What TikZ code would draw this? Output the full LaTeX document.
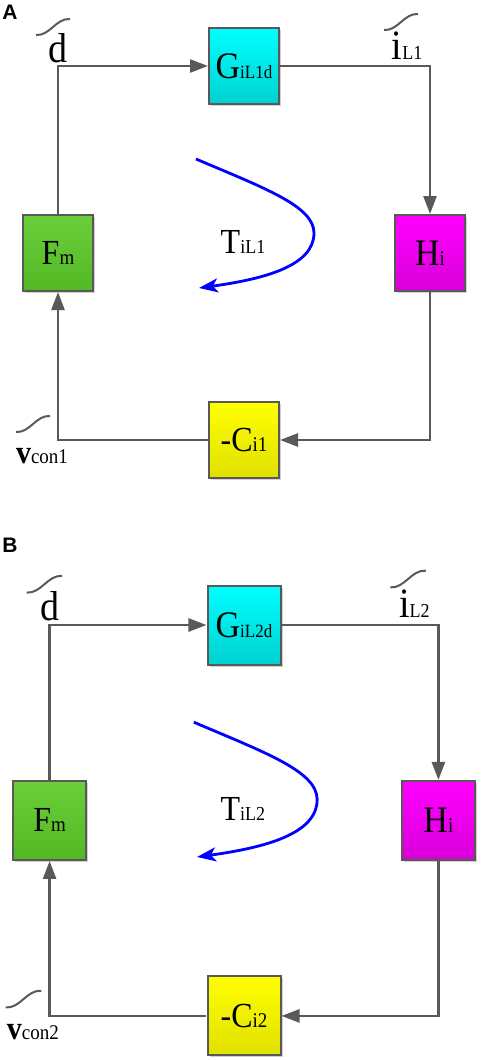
\documentclass[tikz,border=0pt]{standalone}
\usepackage{fontspec}
\usepackage{graphicx}
\setmainfont{Liberation Serif}
\newfontfamily\panelfont{Liberation Sans}
\usetikzlibrary{arrows.meta, shadows}

\definecolor{linegray}{HTML}{595959}
\definecolor{blkgreen}{HTML}{6ACF3A}
\definecolor{blkgreendk}{HTML}{52B824}
\newcommand{\varsym}[4]{\scalebox{1}[1.1]{{\fontsize{#1}{#1}\selectfont #2}{\fontsize{#3}{#3}\selectfont #4}}}
\newcommand{\tildemark}[1]{\draw[tld, shift={#1}] (-17,-8) .. controls (-3,-9) and (3,9) .. (17,8);}

\tikzset{
    blk/.style={draw=linegray, line width=2pt, inner sep=0pt,
        drop shadow={shadow xshift=2pt, shadow yshift=-2pt, opacity=0.18, fill=black}},
    cyanblk/.style={top color=cyan, bottom color=cyan!82!black},
    greenblk/.style={top color=blkgreen, bottom color=blkgreendk},
    pinkblk/.style={top color=magenta, bottom color=magenta!85!black},
    yellowblk/.style={top color=yellow, bottom color=yellow!88!black},
    conn/.style={draw=linegray, line width=2.6pt, -{Triangle[length=18pt,width=13pt]}},
    tld/.style={draw=linegray, line width=2pt},
    loopar/.style={draw=blue, line width=2.8pt, -{Stealth[length=19pt,width=14pt,inset=5pt]}},
}

\begin{document}
\begin{tikzpicture}[x=1pt, y=1pt]
    \useasboundingbox (0,0) rectangle (484,-1060);

    % Two loops, A and B
    \foreach \pn/\k/\ys/\s/\bw/\ly in {A/1/66/1/70/12, B/2/625/1.045/73/545} {
        \node[font={\panelfont\bfseries\fontsize{21}{21}\selectfont}] (lbl\pn) at (10,-\ly) {\pn};

        \begin{scope}[shift={(244,-\ys)}, scale=\s]
            % blocks
            \node[blk, cyanblk, minimum width=\bw pt, minimum height=\bw pt+6pt] (G\k) at (0,0) {\varsym{34}{G}{17}{iL\k d}};
            \node[blk, greenblk, minimum width=\bw pt, minimum height=\bw pt+6pt] (F\k) at (-186,-187) {\varsym{32}{F}{19}{m}};
            \node[blk, pinkblk, minimum width=\bw pt, minimum height=\bw pt+6pt] (H\k) at (186,-187) {\varsym{34}{H}{19}{i}};
            \node[blk, yellowblk, minimum width=\bw pt, minimum height=\bw pt+6pt] (C\k) at (0,-374) {\varsym{32}{-C}{19}{i\k}};

            % connectors
            \draw[conn] (F\k) |- (G\k);
            \draw[conn] (G\k) -| (H\k);
            \draw[conn] (H\k) |- (C\k);
            \draw[conn] (C\k) -| (F\k);

            % signals
            \node[anchor=base] (d\k) at (-186,4) {\varsym{38}{d}{18}{}};
            \node[anchor=base] (i\k) at (163,7) {\varsym{38}{i}{18}{L\k}};
            \node[anchor=base] (v\k) at (-202,-397) {\varsym{30}{\bfseries v}{19}{con\k}};
            \tildemark{(-191,39)}
            \tildemark{(157,44)}
            \tildemark{(-211,-358)}

            % loop gain
            \draw[loopar] (-48,-93) .. controls (20,-122) and (70,-140) .. (70,-167)
                .. controls (70,-200) and (20,-213) .. (-45,-222);
            \node[anchor=base] (T\k) at (-1,-187) {\varsym{32}{T}{18}{iL\k}};
        \end{scope}
    }
\end{tikzpicture}
\end{document}
